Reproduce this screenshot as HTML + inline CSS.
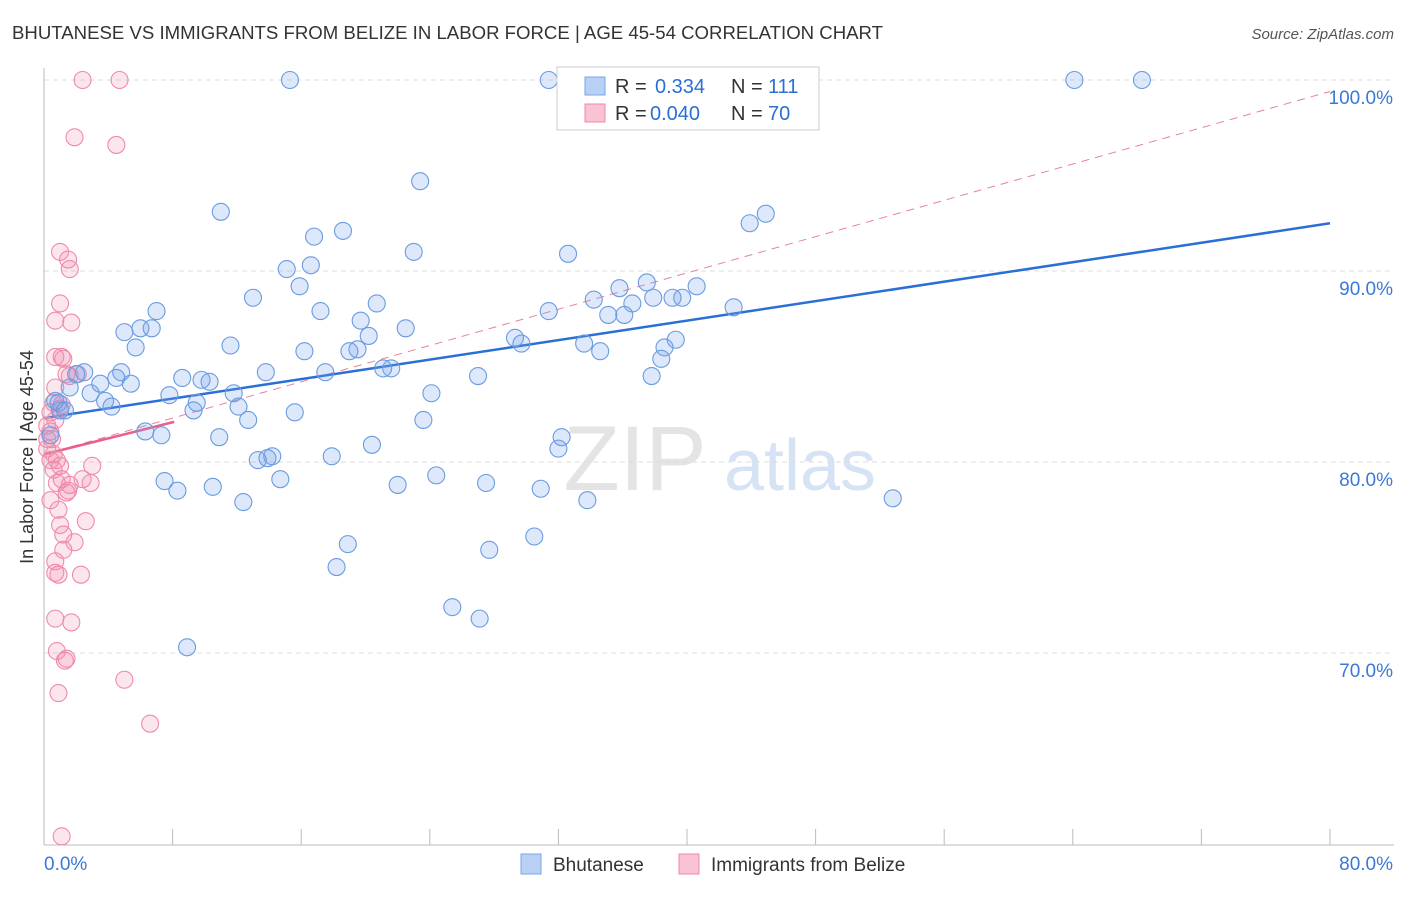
<!DOCTYPE html>
<html><head><meta charset="utf-8"><style>
body{margin:0;background:#fff;font-family:"Liberation Sans",sans-serif;}
svg text{font-family:"Liberation Sans",sans-serif;}
</style></head><body>
<svg id="chart" width="1406" height="892" xmlns="http://www.w3.org/2000/svg">
<text x="12" y="39" font-size="18" fill="#333" textLength="871" lengthAdjust="spacingAndGlyphs">BHUTANESE VS IMMIGRANTS FROM BELIZE IN LABOR FORCE | AGE 45-54 CORRELATION CHART</text>
<text x="1394" y="39" font-size="15" fill="#555" font-style="italic" text-anchor="end">Source: ZipAtlas.com</text>
<text transform="translate(33,457) rotate(-90)" font-size="18" fill="#333" text-anchor="middle">In Labor Force | Age 45-54</text>
<g><text x="635" y="490" font-size="92" font-family="Liberation Serif" fill="#e4e4e4" text-anchor="middle">ZIP</text><text x="800" y="490" font-size="72" fill="#d6e3f5" text-anchor="middle">atlas</text></g>
<g id="grid"></g><g id="axes"></g><g id="trends"></g><g id="pts"></g>
<g>
<rect x="557" y="67" width="262" height="63" fill="#fff" stroke="#ccc"/>
<rect x="585" y="77" width="20" height="18" fill="#b8d0f3" stroke="#7aa6e6"/>
<text x="615" y="93" font-size="20" fill="#333">R = </text><text x="655" y="93" font-size="20" fill="#2a6fd6">0.334</text>
<text x="731" y="93" font-size="20" fill="#333">N = </text><text x="768" y="93" font-size="20" fill="#2a6fd6">111</text>
<rect x="585" y="104" width="20" height="18" fill="#f9c3d4" stroke="#f08aaa"/>
<text x="615" y="120" font-size="20" fill="#333">R = </text><text x="650" y="120" font-size="20" fill="#2a6fd6">0.040</text>
<text x="731" y="120" font-size="20" fill="#333">N = </text><text x="768" y="120" font-size="20" fill="#2a6fd6">70</text>
</g>
<g>
<rect x="521" y="854" width="20" height="20" fill="#b8d0f3" stroke="#7aa6e6"/>
<text x="553" y="871" font-size="19" fill="#333">Bhutanese</text>
<rect x="679" y="854" width="20" height="20" fill="#f9c3d4" stroke="#f08aaa"/>
<text x="711" y="871" font-size="19" fill="#333">Immigrants from Belize</text>
</g>
</svg>
<script>
const xTicks=[0,8,16,24,32,40,48,56,64,72,80];
const yTicks=[70,80,90,100];
const yTickLabels=["70.0%","80.0%","90.0%","100.0%"];
const xAxisLabels=["0.0%","80.0%"];
const blueX=[15.3,31.4,64.1,68.3,23.4,11.0,44.9,43.9,18.6,16.8,32.6,23.0,15.1,16.6,15.9,37.5,13.0,35.8,34.2,39.7,40.6,39.1,37.9,36.6,42.9,7.0,20.7,17.2,31.4,35.1,36.1,19.7,5.0,6.0,6.7,22.5,20.2,29.3,39.3,11.6,33.6,29.7,38.6,5.7,16.2,19.5,19.0,34.6,38.4,21.6,21.1,13.8,17.5,27.0,37.8,4.8,2.5,2.0,8.6,10.3,9.8,4.5,5.4,3.5,1.6,11.8,24.1,7.8,2.9,3.8,9.5,4.2,9.3,12.1,0.9,1.0,15.6,12.7,23.6,6.3,7.3,10.9,32.2,20.4,32.0,14.2,13.9,13.3,17.9,24.4,7.5,14.7,27.5,8.3,10.5,22.0,30.9,52.8,33.8,12.4,30.5,18.9,27.7,18.2,25.4,27.1,8.9,0.7,0.4,1.3];
const blueY=[100,100,100,100,94.7,93.1,93.0,92.5,92.1,91.8,90.9,91.0,90.1,90.3,89.2,89.4,88.6,89.1,88.5,88.6,89.2,88.6,88.6,88.3,88.1,87.9,88.3,87.9,87.9,87.7,87.7,87.4,86.8,87.0,87.0,87.0,86.6,86.5,86.4,86.1,86.2,86.2,86.0,86.0,85.8,85.9,85.8,85.8,85.4,84.9,84.9,84.7,84.7,84.5,84.5,84.7,84.7,84.6,84.4,84.2,84.3,84.4,84.1,84.1,83.9,83.6,83.6,83.5,83.6,83.2,83.1,82.9,82.7,82.9,83.1,82.7,82.6,82.2,82.2,81.6,81.4,81.3,81.3,80.9,80.7,80.3,80.2,80.1,80.3,79.3,79.0,79.1,78.9,78.5,78.7,78.8,78.6,78.1,78.0,77.9,76.1,75.7,75.4,74.5,72.4,71.8,70.3,83.2,81.4,82.7];
const pinkX=[2.4,4.7,1.9,4.5,1.0,1.5,1.6,1.0,1.7,0.7,0.7,1.1,1.2,2.1,1.4,1.6,0.7,0.6,1.0,0.4,1.1,0.7,0.2,0.4,0.5,0.2,0.6,0.8,1.0,3.0,0.4,1.1,2.4,2.9,1.5,0.8,0.4,1.6,1.4,0.9,1.0,2.6,1.2,1.9,1.2,0.7,0.7,0.9,2.3,0.7,1.7,0.8,1.4,1.3,5.0,0.9,6.6,1.1,0.2,0.6];
const pinkY=[100,100,97.0,96.6,91.0,90.6,90.1,88.3,87.3,87.4,85.5,85.5,85.4,84.6,84.6,84.5,83.9,83.1,82.8,82.6,83.0,82.2,81.9,81.6,81.2,80.7,80.4,80.1,79.8,79.8,80.1,79.1,79.1,78.9,78.5,78.9,78.0,78.8,78.4,77.5,76.7,76.9,76.2,75.8,75.4,74.8,74.2,74.1,74.1,71.8,71.6,70.1,69.7,69.6,68.6,67.9,66.3,60.4,81.2,79.6];
const blueTrend=[82.3,92.5];
const pinkTrend=[80.4,82.1,99.4];
const X0=44,X1=1330,Y100=80,PXPER=19.1,BOTTOM=845;
const sx=v=>X0+(v/80)*(X1-X0);
const sy=v=>Y100+(100-v)*PXPER;
const NS="http://www.w3.org/2000/svg";
function mk(tag,attrs,parent){const e=document.createElementNS(NS,tag);for(const k in attrs)e.setAttribute(k,attrs[k]);parent.appendChild(e);return e;}
const grid=document.getElementById('grid'),axes=document.getElementById('axes'),trends=document.getElementById('trends'),pts=document.getElementById('pts');
yTicks.forEach((t,i)=>{
 const l=mk('line',{x1:X0,x2:1394,y1:sy(t),y2:sy(t),stroke:'#ddd','stroke-dasharray':'5,4'},grid);
 
 
 const tx=mk('text',{x:1393,y:sy(t)+24,'font-size':19,fill:'#3a78d8','text-anchor':'end'},grid);
 tx.textContent=yTickLabels[i];
 
 
});
const ya=mk('line',{x1:X0,x2:X0,y1:68,y2:BOTTOM,stroke:'#bbb'},axes);


const xa=mk('line',{x1:X0,x2:1394,y1:BOTTOM,y2:BOTTOM,stroke:'#bbb'},axes);


xTicks.forEach(t=>{
 const l=mk('line',{x1:sx(t),x2:sx(t),y1:BOTTOM,y2:BOTTOM-16,stroke:'#bbb'},axes);
 
 
});
[[0,'start',44],[80,'end',1393]].forEach((d,i)=>{
 const tx=mk('text',{x:d[2],y:870,'font-size':19,fill:'#3a78d8','text-anchor':d[1]},axes);
 tx.textContent=xAxisLabels[i];
 
 
});
const pd=mk('line',{x1:sx(0),y1:sy(pinkTrend[0]),x2:sx(80),y2:sy(pinkTrend[2]),stroke:'#e8819f','stroke-width':1,'stroke-dasharray':'8,6'},trends);


const bt=mk('line',{x1:sx(0),y1:sy(blueTrend[0]),x2:sx(80),y2:sy(blueTrend[1]),stroke:'#2a6fd6','stroke-width':2.5},trends);


const pt=mk('line',{x1:sx(0),y1:sy(pinkTrend[0]),x2:sx(8.1),y2:sy(pinkTrend[1]),stroke:'#e8608a','stroke-width':2.5},trends);


pinkX.forEach((x,i)=>{
 const c=mk('circle',{cx:sx(x),cy:sy(pinkY[i]),r:8.5,fill:'rgba(243,140,175,0.22)',stroke:'#f08aaa','stroke-width':1.1},pts);
 
 
});
blueX.forEach((x,i)=>{
 const c=mk('circle',{cx:sx(x),cy:sy(blueY[i]),r:8.5,fill:'rgba(120,165,235,0.25)',stroke:'#6a9be0','stroke-width':1.1},pts);
 
 
});
</script>
</body></html>
